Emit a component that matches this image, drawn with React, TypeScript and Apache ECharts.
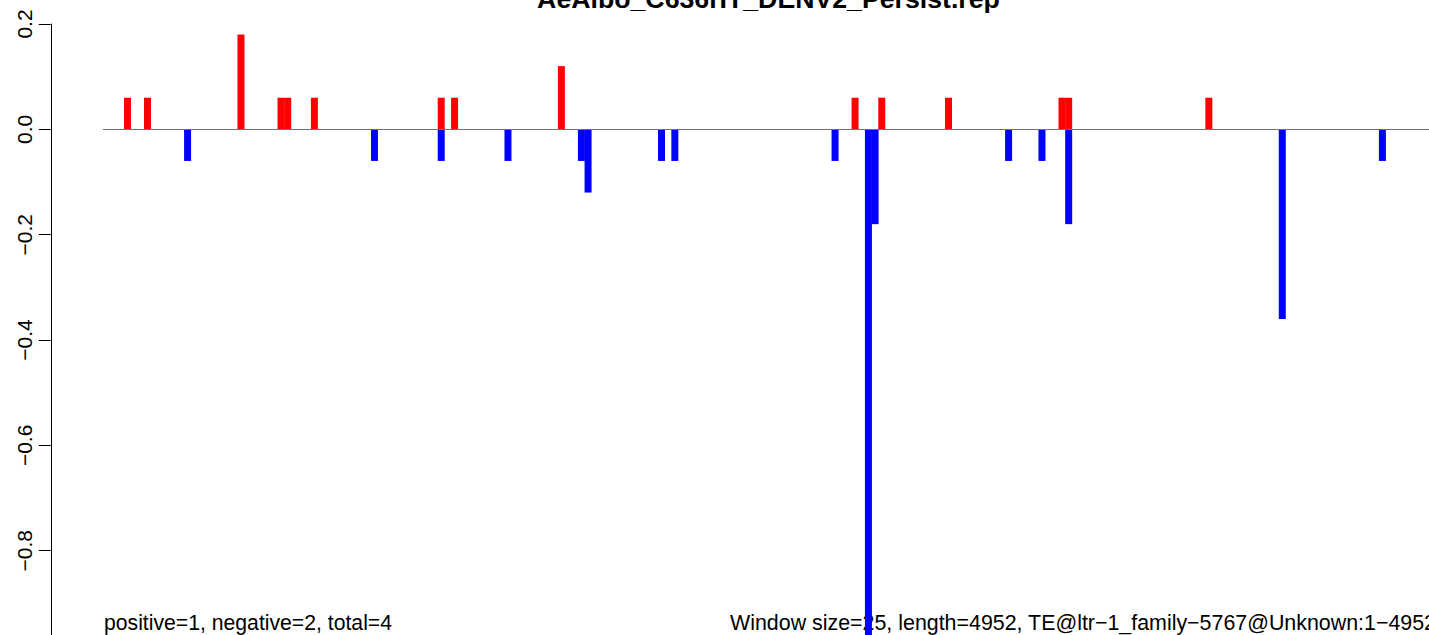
import React, { useEffect, useRef } from "react";
import * as echarts from "echarts";

const titleText = "AeAlbo_C636rIT_DENV2_Persist.rep";
const leftNote = "positive=1, negative=2, total=4";
const rightNote = "Window size=25, length=4952, TE@ltr\u22121_family\u22125767@Unknown:1\u22124952";

// window (bin) index of each bar and its value
const posBins = [4, 7, 21, 27, 28, 32, 51, 53, 69, 113, 117, 127, 144, 145, 166];
const posValues = [0.06, 0.06, 0.18, 0.06, 0.06, 0.06, 0.06, 0.06, 0.12, 0.06, 0.06, 0.06, 0.06, 0.06, 0.06];
const negBins = [13, 41, 51, 61, 72, 73, 84, 86, 110, 115, 116, 136, 141, 145, 177, 192];
const negValues = [-0.06, -0.06, -0.06, -0.06, -0.06, -0.12, -0.06, -0.06, -0.06, -1.0, -0.18, -0.06, -0.06, -0.18, -0.36, -0.06];

const yMin = -1.0;
const yMax = 0.2;
const yStep = 0.2;
const xMin = 0.375;
const xMax = 200;

const FONT = "'Liberation Sans', Arial, Helvetica, sans-serif";

export default function App() {
  const ref = useRef<HTMLDivElement>(null);
  useEffect(() => {
    document.body.style.margin = "0";
    const chart = echarts.init(ref.current!, undefined, { renderer: "svg" });
    const pxPerBin = 6.675;
    const pxPerUnit = 526.7;
    const gridLeft = 103.3;
    const gridTop = 24;
    chart.setOption({
      animation: false,
      backgroundColor: "#ffffff",
      grid: {
        left: gridLeft,
        top: gridTop,
        width: (xMax - xMin) * pxPerBin,
        height: (yMax - yMin) * pxPerUnit,
        containLabel: false,
        outerBoundsMode: "none",
      },
      xAxis: {
        type: "value",
        min: xMin,
        max: xMax,
        z: 10,
        axisLine: { show: true, onZero: true, lineStyle: { color: "#707070", width: 1 } },
        axisTick: { show: false },
        axisLabel: { show: false },
        splitLine: { show: false },
      },
      yAxis: {
        type: "value",
        min: yMin,
        max: yMax,
        interval: yStep,
        position: "left",
        offset: 52.5,
        axisLine: { show: true, onZero: false, lineStyle: { color: "#000000", width: 1 } },
        axisTick: { show: true, length: 12, lineStyle: { color: "#000000", width: 1 } },
        axisLabel: {
          rotate: 90,
          margin: 16,
          color: "#000000",
          fontSize: 21,
          fontFamily: FONT,
          formatter: (v: number) =>
            v < -0.9 ? "" : Math.abs(v) < 1e-9 ? "0.0" : v.toFixed(1).replace("-", "\u2212"),
        },
        splitLine: { show: false },
      },
      series: [
        {
          type: "bar",
          data: posBins.map((b, i) => [b, posValues[i]]),
          barWidth: 7,
          barGap: "-100%",
          itemStyle: { color: "#ff0000" },
        },
        {
          type: "bar",
          data: negBins.map((b, i) => [b, negValues[i]]),
          barWidth: 7,
          barGap: "-100%",
          itemStyle: { color: "#0000ff" },
        },
      ],
      graphic: [
        {
          type: "text",
          x: 768.5,
          y: -1.2,
          style: {
            text: titleText,
            fontSize: 26.7,
            fontWeight: "bold",
            fontFamily: FONT,
            fill: "#000000",
            align: "center",
            verticalAlign: "middle",
          },
        },
        {
          type: "text",
          x: 104,
          y: 622.5,
          style: {
            text: leftNote,
            fontSize: 21.2,
            fontFamily: FONT,
            fill: "#000000",
            align: "left",
            verticalAlign: "middle",
          },
        },
        {
          type: "text",
          x: 730,
          y: 622.5,
          style: {
            text: rightNote,
            fontSize: 21.4,
            fontFamily: FONT,
            fill: "#000000",
            align: "left",
            verticalAlign: "middle",
          },
        },
      ],
    });
    return () => chart.dispose();
  }, []);
  return <div ref={ref} style={{ width: 1429, height: 635 }} />;
}
